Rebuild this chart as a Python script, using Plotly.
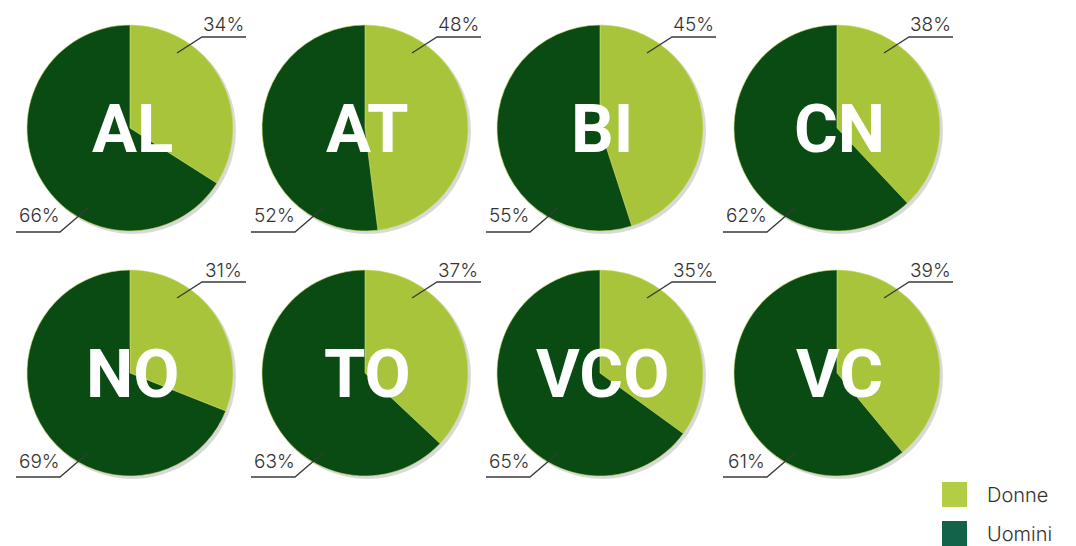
import plotly.graph_objects as go

W, H = 1076, 546

provinces = ["AL", "AT", "BI", "CN", "NO", "TO", "VCO", "VC"]
donne = [34, 48, 45, 38, 31, 37, 35, 39]
uomini = [66, 52, 55, 62, 69, 63, 65, 61]
series = ["Donne", "Uomini"]

LIGHT = "#a7c43b"
DARK = "#0a4b13"
LEG_COLORS = ["#b3ce45", "#13634a"]
TXT = "#333333"

col_x = [130, 365, 600, 837]
row_y = [128, 373]
R = 103


def px(x):
    return x / W


def py(y):
    return 1 - y / H


def note(x, y, text, size, color, family="Inter", weight=300, xanchor="center"):
    fig.add_annotation(x=px(x), y=py(y), xref="paper", yref="paper",
                       xanchor=xanchor, yanchor="middle",
                       text=text, showarrow=False,
                       font=dict(family=family, size=size, color=color, weight=weight))


fig = go.Figure()

for i, (prov, d, u) in enumerate(zip(provinces, donne, uomini)):
    cx = col_x[i % 4]
    cy = row_y[i // 4]
    # soft shadow behind the pie
    fig.add_shape(type="circle", xref="paper", yref="paper",
                  x0=px(cx - R + 2), x1=px(cx + R + 3),
                  y0=py(cy + R + 3), y1=py(cy - R + 2),
                  fillcolor="rgba(0,0,0,0.15)", line_width=0, layer="below")
    fig.add_trace(go.Pie(
        labels=series,
        values=[d, u],
        sort=False,
        direction="clockwise",
        rotation=0,
        marker=dict(colors=[LIGHT, DARK], line=dict(color="#c9dc6a", width=0.6)),
        textinfo="none",
        hoverinfo="label+percent",
        showlegend=False,
        domain=dict(x=[px(cx - R), px(cx + R)], y=[py(cy + R), py(cy - R)]),
    ))
    # province label
    note(cx + 2, cy + 1, f"<b>{prov}</b>", 67, "white", family="Roboto", weight=700)
    # leader lines
    top = f"M {px(cx + 47)},{py(cy - 75)} L {px(cx + 72)},{py(cy - 91)} L {px(cx + 116)},{py(cy - 91)}"
    bot = f"M {px(cx - 42)},{py(cy + 80)} L {px(cx - 70)},{py(cy + 104)} L {px(cx - 114)},{py(cy + 104)}"
    for p in (top, bot):
        fig.add_shape(type="path", path=p, xref="paper", yref="paper",
                      line=dict(color="#3a3a3a", width=1.3))
    note(cx + 93, cy - 103, f"{d}%", 19, TXT)
    note(cx - 91, cy + 88, f"{u}%", 19, TXT)

# legend
for k, (name, c) in enumerate(zip(series, LEG_COLORS)):
    y0 = 482 + k * 39
    fig.add_shape(type="rect", xref="paper", yref="paper",
                  x0=px(942), x1=px(967), y0=py(y0 + 25), y1=py(y0),
                  fillcolor=c, line_width=0)
    note(985, y0 + 13, name, 20, TXT, xanchor="left")

fig.update_layout(
    width=W, height=H,
    margin=dict(l=0, r=0, t=0, b=0),
    paper_bgcolor="white",
    plot_bgcolor="white",
)

fig.write_html("out.html", config={"displayModeBar": False},
               post_script="document.body.style.margin='0';")
